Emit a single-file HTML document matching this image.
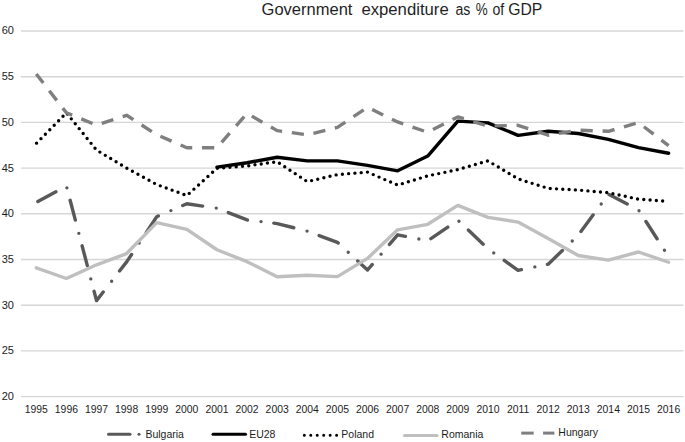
<!DOCTYPE html>
<html><head><meta charset="utf-8"><style>
html,body{margin:0;padding:0;background:#fff;}
body{width:685px;height:442px;overflow:hidden;position:relative;font-family:"Liberation Sans",sans-serif;}
svg{position:absolute;left:0;top:0;display:block;}
svg text{font-family:"Liberation Sans",sans-serif;}
</style></head><body>
<svg width="685" height="442" viewBox="0 0 685 442">
<rect x="0" y="0" width="685" height="442" fill="#fff"/>
<g font-size="15.8" fill="#1f1f1f" lengthAdjust="spacingAndGlyphs">
<text x="261.55" y="15" textLength="90.86" lengthAdjust="spacingAndGlyphs">Government</text>
<text x="361.4" y="15" textLength="87.3" lengthAdjust="spacingAndGlyphs">expenditure</text>
<text x="455.5" y="15" textLength="14.92" lengthAdjust="spacingAndGlyphs">as</text>
<text x="475.7" y="15" textLength="11.94" lengthAdjust="spacingAndGlyphs">%</text>
<text x="492.4" y="15" textLength="11.78" lengthAdjust="spacingAndGlyphs">of</text>
<text x="508.2" y="15" textLength="34.13" lengthAdjust="spacingAndGlyphs">GDP</text>
</g>
<g stroke="#d6d6d6" stroke-width="1.4">
<line x1="21" y1="31.00" x2="683.5" y2="31.00" />
<line x1="21" y1="76.70" x2="683.5" y2="76.70" />
<line x1="21" y1="122.40" x2="683.5" y2="122.40" />
<line x1="21" y1="168.10" x2="683.5" y2="168.10" />
<line x1="21" y1="213.80" x2="683.5" y2="213.80" />
<line x1="21" y1="259.50" x2="683.5" y2="259.50" />
<line x1="21" y1="305.20" x2="683.5" y2="305.20" />
<line x1="21" y1="350.90" x2="683.5" y2="350.90" />
<line x1="21" y1="396.60" x2="683.5" y2="396.60" />
</g>
<g font-size="11" fill="#1c1c1c" text-anchor="end">
<text x="14" y="34.45">60</text>
<text x="14" y="80.15">55</text>
<text x="14" y="125.85">50</text>
<text x="14" y="171.55">45</text>
<text x="14" y="217.25">40</text>
<text x="14" y="262.95">35</text>
<text x="14" y="308.65">30</text>
<text x="14" y="354.35">25</text>
<text x="14" y="400.05">20</text>
</g>
<g font-size="10.4" fill="#1c1c1c" text-anchor="middle">
<text x="36.30" y="413">1995</text>
<text x="66.41" y="413">1996</text>
<text x="96.52" y="413">1997</text>
<text x="126.63" y="413">1998</text>
<text x="156.74" y="413">1999</text>
<text x="186.85" y="413">2000</text>
<text x="216.96" y="413">2001</text>
<text x="247.07" y="413">2002</text>
<text x="277.18" y="413">2003</text>
<text x="307.29" y="413">2004</text>
<text x="337.40" y="413">2005</text>
<text x="367.51" y="413">2006</text>
<text x="397.62" y="413">2007</text>
<text x="427.73" y="413">2008</text>
<text x="457.84" y="413">2009</text>
<text x="487.95" y="413">2010</text>
<text x="518.06" y="413">2011</text>
<text x="548.17" y="413">2012</text>
<text x="578.28" y="413">2013</text>
<text x="608.39" y="413">2014</text>
<text x="638.50" y="413">2015</text>
<text x="668.61" y="413">2016</text>
</g>
<g fill="none" stroke-linejoin="round">
<polyline points="36.30,202.28 66.41,186.11 96.52,300.63 126.63,261.88 156.74,216.72 186.85,203.75 216.96,208.22 247.07,219.92 277.18,223.58 307.29,231.17 337.40,242.32 367.51,270.01 397.62,234.82 427.73,240.85 457.84,220.20 487.95,248.71 518.06,270.38 548.17,264.16 578.28,235.10 608.39,194.15 638.50,209.87 668.61,256.76" stroke="#595959" stroke-width="3.4" stroke-linecap="round" stroke-dasharray="20.5 13.7 0 12.88" stroke-dashoffset="-1.76"/>
<polyline points="216.96,167.19 247.07,162.71 277.18,157.22 307.29,160.88 337.40,160.88 367.51,165.36 397.62,170.84 427.73,156.04 457.84,121.12 487.95,122.86 518.06,135.38 548.17,131.27 578.28,133.46 608.39,139.40 638.50,147.63 668.61,153.29" stroke="#000" stroke-width="3.4" stroke-linecap="round"/>
<polyline points="36.30,143.42 66.41,112.80 96.52,150.09 126.63,168.10 156.74,184.55 186.85,195.52 216.96,168.37 247.07,165.91 277.18,161.70 307.29,181.63 337.40,174.59 367.51,172.12 397.62,185.10 427.73,175.87 457.84,169.65 487.95,160.88 518.06,178.89 548.17,188.39 578.28,190.04 608.39,192.69 638.50,199.18 668.61,201.37" stroke="#000" stroke-width="3.4" stroke-linecap="round" stroke-dasharray="0 6.2953" stroke-dashoffset="-0.36"/>
<polyline points="36.30,267.82 66.41,278.51 96.52,264.80 126.63,253.56 156.74,222.67 186.85,229.34 216.96,249.72 247.07,261.69 277.18,276.77 307.29,275.22 337.40,276.59 367.51,258.40 397.62,229.80 427.73,224.31 457.84,205.39 487.95,217.36 518.06,222.12 548.17,238.39 578.28,255.48 608.39,260.14 638.50,252.01 668.61,262.24" stroke="#bfbfbf" stroke-width="3.4" stroke-linecap="round"/>
<polyline points="36.30,73.96 66.41,112.80 96.52,125.14 126.63,115.27 156.74,134.74 186.85,147.72 216.96,147.72 247.07,113.44 277.18,130.63 307.29,134.83 337.40,127.34 367.51,107.32 397.62,121.94 427.73,132.27 457.84,116.92 487.95,126.06 518.06,125.32 548.17,135.20 578.28,130.17 608.39,131.27 638.50,122.58 668.61,145.71" stroke="#7f7f7f" stroke-width="3.4" stroke-dasharray="12.2 9.8" stroke-dashoffset="0.8"/>
</g>
<g stroke-width="3" fill="none">
<line x1="108.5" y1="434.2" x2="130" y2="434.2" stroke="#595959" stroke-linecap="round"/>
<line x1="139" y1="434.2" x2="139" y2="434.2" stroke="#595959" stroke-linecap="round"/>
<line x1="213" y1="434.2" x2="245.5" y2="434.2" stroke="#000" stroke-linecap="round"/>
<line x1="304.3" y1="435.2" x2="336.7" y2="435.2" stroke="#000" stroke-linecap="round" stroke-dasharray="0 6.46"/>
<line x1="404.5" y1="435.4" x2="437" y2="435.4" stroke="#bfbfbf" stroke-linecap="round"/>
<line x1="521.2" y1="433.1" x2="533.7" y2="433.1" stroke="#7f7f7f"/>
<line x1="543.1" y1="433.1" x2="554.4" y2="433.1" stroke="#7f7f7f"/>
</g>
<g font-size="10.5" fill="#1c1c1c">
<text x="145.4" y="437.5">Bulgaria</text>
<text x="249.2" y="437.8">EU28</text>
<text x="341.3" y="438">Poland</text>
<text x="441.3" y="438.2">Romania</text>
<text x="558.3" y="436">Hungary</text>
</g>
</svg>
</body></html>
